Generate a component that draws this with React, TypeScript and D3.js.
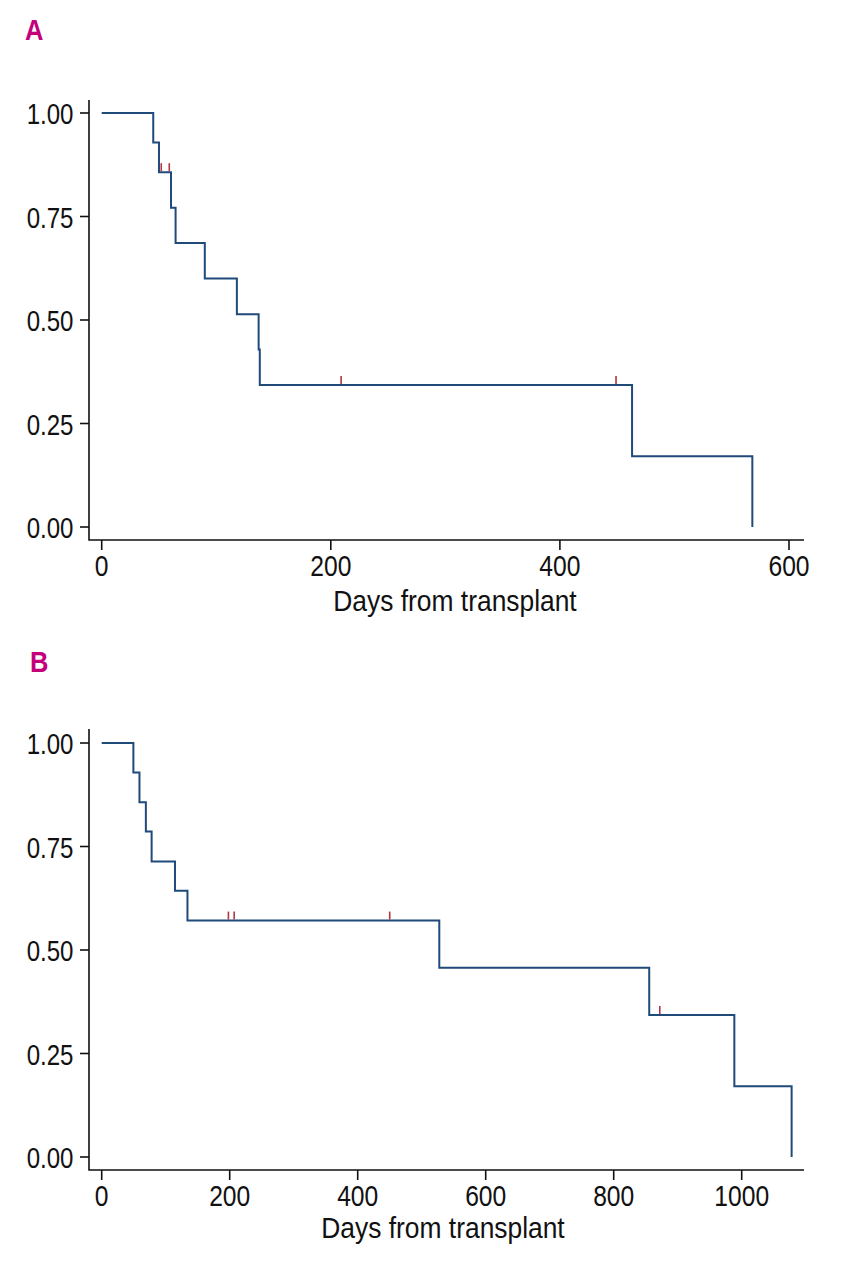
import { useEffect, useRef } from 'react';
import * as d3 from 'd3';

// Panel A: Kaplan-Meier step points (days, survival)
const daysA = [0, 45, 50, 60.5, 64.5, 90, 118, 137, 138, 463, 568];
const survA = [1.0, 0.929, 0.857, 0.771, 0.686, 0.6, 0.514, 0.429, 0.343, 0.171, 0.0];
const censorA = [52, 59, 209, 449];

// Panel B
const daysB = [0, 49.5, 59, 69, 78, 114.5, 134, 527.5, 855.5, 988.5, 1078];
const survB = [1.0, 0.929, 0.857, 0.786, 0.714, 0.643, 0.571, 0.457, 0.343, 0.171, 0.0];
const censorB = [198, 207, 450, 872];

const yTicks = [0, 0.25, 0.5, 0.75, 1.0];
const xTicksA = [0, 200, 400, 600];
const xTicksB = [0, 200, 400, 600, 800, 1000];

const FONT = '"Liberation Sans", Arial, sans-serif';
const CURVE = '#1f4a7a';
const CENSOR = '#b2353f';
const LABEL = '#c4007a';

interface PanelCfg {
  label: string;
  days: number[];
  surv: number[];
  censor: number[];
  xTicks: number[];
  xMax: number;
  top: number;      // y pixel of 1.00
  bottom: number;   // y pixel of 0.00
  axisY: number;    // y of x-axis line
  axisTop: number;  // top of y-axis line
  labelX: number;
  labelY: number;
  titleX: number;
  titleY: number;
  x0: number;       // pixel of day 0
  xEnd: number;     // pixel of xMax
}

export default function App() {
  const svgRef = useRef<SVGSVGElement>(null);

  useEffect(() => {
    if (!svgRef.current) return;
    const svg = d3.select(svgRef.current);
    svg.selectAll('*').remove();

    const panels: PanelCfg[] = [
      {
        label: 'A', days: daysA, surv: survA, censor: censorA, xTicks: xTicksA, xMax: 600,
        top: 113, bottom: 527, axisY: 540, axisTop: 100, labelX: 25, labelY: 40,
        titleX: 455, titleY: 610.5, x0: 101.7, xEnd: 789,
      },
      {
        label: 'B', days: daysB, surv: survB, censor: censorB, xTicks: xTicksB, xMax: 1000,
        top: 743, bottom: 1157, axisY: 1170, axisTop: 729, labelX: 30, labelY: 672,
        titleX: 443, titleY: 1238, x0: 101.7, xEnd: 741.7,
      },
    ];

    const axisLeft = 89;
    const axisRight = 804;

    // condensed text: regular face squeezed horizontally
    const squeezed = (
      parent: d3.Selection<SVGGElement, unknown, null, undefined>,
      x: number, y: number, str: string, anchor: string, sx: number,
    ) => parent.append('text')
      .attr('transform', `translate(${x},${y}) scale(${sx},1)`)
      .attr('text-anchor', anchor)
      .attr('font-family', FONT)
      .attr('font-size', '29px')
      .attr('fill', '#111')
      .text(str);

    panels.forEach(p => {
      const g = svg.append('g');

      const x = d3.scaleLinear().domain([0, p.xMax]).range([p.x0, p.xEnd]);
      const y = d3.scaleLinear().domain([0, 1]).range([p.bottom, p.top]);

      // Panel letter
      g.append('text')
        .attr('transform', `translate(${p.labelX},${p.labelY}) scale(0.85,1)`)
        .attr('font-family', FONT)
        .attr('font-weight', 'bold')
        .attr('font-size', '30px')
        .attr('fill', LABEL)
        .text(p.label);

      // axis lines (L shape)
      g.append('path')
        .attr('d', `M${axisLeft},${p.axisTop}V${p.axisY}H${axisRight}`)
        .attr('fill', 'none')
        .attr('stroke', '#111')
        .attr('stroke-width', 1.6);

      // y ticks
      const yAxis = g.append('g');
      yTicks.forEach(t => {
        yAxis.append('line')
          .attr('x1', axisLeft - 9).attr('x2', axisLeft)
          .attr('y1', y(t)).attr('y2', y(t))
          .attr('stroke', '#111').attr('stroke-width', 1.6);
        squeezed(yAxis, 73.5, y(t) + 11, d3.format('.2f')(t), 'end', 0.83);
      });

      // x ticks
      const xAxis = g.append('g');
      p.xTicks.forEach(t => {
        xAxis.append('line')
          .attr('x1', x(t)).attr('x2', x(t))
          .attr('y1', p.axisY).attr('y2', p.axisY + 10)
          .attr('stroke', '#111').attr('stroke-width', 1.6);
        squeezed(xAxis, x(t), p.axisY + 36, String(t), 'middle', 0.85);
      });

      squeezed(g, p.titleX, p.titleY, 'Days from transplant', 'middle', 0.91);

      // KM step curve
      const pts: [number, number][] = p.days.map((d, i) => [d, p.surv[i]]);
      const line = d3.line<[number, number]>()
        .x(d => x(d[0]))
        .y(d => y(d[1]))
        .curve(d3.curveStepAfter);

      g.append('path')
        .attr('d', line(pts) || '')
        .attr('fill', 'none')
        .attr('stroke', CURVE)
        .attr('stroke-width', 2);

      // censor marks
      const survAt = (t: number) => {
        let s = 1;
        p.days.forEach((d, i) => { if (d <= t) s = p.surv[i]; });
        return s;
      };
      p.censor.forEach(c => {
        g.append('line')
          .attr('x1', x(c)).attr('x2', x(c))
          .attr('y1', y(survAt(c)) - 9).attr('y2', y(survAt(c)) - 1)
          .attr('stroke', CENSOR)
          .attr('stroke-width', 1.6);
      });
    });
  }, []);

  return (
    <svg
      ref={svgRef}
      width={843}
      height={1280}
      style={{ position: 'absolute', left: 0, top: 0, background: '#fff' }}
    />
  );
}
